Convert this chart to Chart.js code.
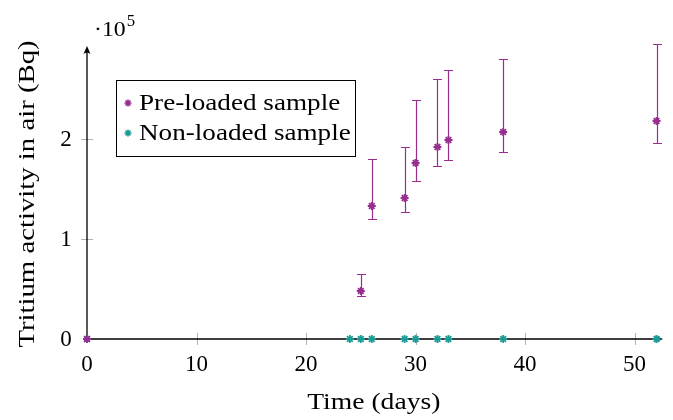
<!DOCTYPE html>
<html>
<head>
<meta charset="utf-8">
<script src="https://cdn.jsdelivr.net/npm/chart.js@4"></script>
<style>
html,body{margin:0;padding:0;background:#fff;}
#wrap{width:673px;height:420px;position:relative;}
</style>
</head>
<body>
<div id="wrap"><canvas id="c" width="673" height="420"></canvas></div>
<script>
// ---- data ----
const preDays    = [0, 25, 26, 29, 30, 32, 33, 38, 52];
const preValues  = [0, 48000, 133000, 141000, 176000, 192000, 199000, 207000, 218000];
const preUpper   = [0, 65500, 180000, 192000, 239000, 260000, 269000, 280000, 295000];
const preLower   = [0, 43500, 120000, 127000, 158000, 173000, 179000, 187000, 196000];
const nonDays    = [0, 24, 25, 26, 29, 30, 32, 33, 38, 52];
const nonValues  = [0, 0, 0, 0, 0, 0, 0, 0, 0, 0];
const xTicks     = [0, 10, 20, 30, 40, 50];
const yTicks     = [0, 100000, 200000];
const yTickLabels = ['0', '1', '2'];
const seriesLabels = ['Pre-loaded sample', 'Non-loaded sample'];
const xTitle = 'Time (days)';
const yTitle = 'Tritium activity in air (Bq)';

const PURPLE = '#962d8f';
const TEAL = '#1b9c97';
const SERIF = '"Liberation Serif", "DejaVu Serif", serif';

const preData = preDays.map((d, i) => ({x: d, y: preValues[i], hi: preUpper[i], lo: preLower[i]}));
const nonData = nonDays.map((d, i) => ({x: d, y: nonValues[i]}));

// draw text horizontally stretched (Latin Modern is wider than Times)
function wideText(ctx, text, x, y, stretch, align) {
  const w = ctx.measureText(text).width * stretch;
  let left = x;
  if (align === 'center') left = x - w / 2;
  else if (align === 'right') left = x - w;
  ctx.save();
  ctx.textAlign = 'left';
  ctx.translate(left, y);
  ctx.scale(stretch, 1);
  ctx.fillText(text, 0, 0);
  ctx.restore();
  return left + w;
}

function drawStar(ctx, x, y, r) {
  ctx.beginPath();
  for (let k = 0; k < 4; k++) {
    const a = k * Math.PI / 4;
    ctx.moveTo(x - r * Math.cos(a), y - r * Math.sin(a));
    ctx.lineTo(x + r * Math.cos(a), y + r * Math.sin(a));
  }
  ctx.stroke();
}

const errorBars = {
  id: 'errorBars',
  beforeDatasetsDraw(chart) {
    const ctx = chart.ctx, xs = chart.scales.x, ys = chart.scales.y;
    ctx.save();
    ctx.strokeStyle = PURPLE;
    ctx.lineWidth = 1.2;
    preData.forEach(p => {
      if (p.hi === p.lo) return;
      const x = Math.round(xs.getPixelForValue(p.x)) + 0.5;
      const yh = Math.round(ys.getPixelForValue(p.hi)) + 0.5, yl = Math.round(ys.getPixelForValue(p.lo)) + 0.5;
      ctx.beginPath();
      ctx.moveTo(x, yh); ctx.lineTo(x, yl);
      ctx.moveTo(x - 4.5, yh); ctx.lineTo(x + 4.5, yh);
      ctx.moveTo(x - 4.5, yl); ctx.lineTo(x + 4.5, yl);
      ctx.stroke();
    });
    ctx.restore();
  }
};

const axesPlugin = {
  id: 'axesPlugin',
  beforeDatasetsDraw(chart) {
    const ctx = chart.ctx, xs = chart.scales.x, ys = chart.scales.y;
    const ca = chart.chartArea;
    const x0 = xs.getPixelForValue(0), y0 = ys.getPixelForValue(0);
    ctx.save();
    // tick marks
    ctx.strokeStyle = '#b0b0b0';
    ctx.lineWidth = 1;
    xTicks.forEach(t => {
      if (t === 0) return;
      const x = Math.round(xs.getPixelForValue(t)) + 0.5;
      ctx.beginPath(); ctx.moveTo(x, y0 - 6); ctx.lineTo(x, y0 + 6); ctx.stroke();
    });
    yTicks.forEach(t => {
      if (t === 0) return;
      const y = Math.round(ys.getPixelForValue(t)) + 0.5;
      ctx.beginPath(); ctx.moveTo(x0 - 6, y); ctx.lineTo(x0 + 6, y); ctx.stroke();
    });
    // axis lines
    ctx.strokeStyle = '#000';
    ctx.lineWidth = 1.3;
    ctx.beginPath();
    ctx.moveTo(x0, y0); ctx.lineTo(ca.right - 2, y0);
    ctx.moveTo(x0, y0); ctx.lineTo(x0, ca.top + 2);
    ctx.stroke();
    // arrow heads
    ctx.fillStyle = '#000';
    ctx.beginPath();
    ctx.moveTo(ca.right + 1, y0);
    ctx.lineTo(ca.right - 7, y0 - 3.5);
    ctx.quadraticCurveTo(ca.right - 4, y0, ca.right - 7, y0 + 3.5);
    ctx.closePath(); ctx.fill();
    ctx.beginPath();
    ctx.moveTo(x0, ca.top - 1);
    ctx.lineTo(x0 - 3.5, ca.top + 7);
    ctx.quadraticCurveTo(x0, ca.top + 4, x0 + 3.5, ca.top + 7);
    ctx.closePath(); ctx.fill();
    // tick labels
    ctx.fillStyle = '#000';
    ctx.font = '23px ' + SERIF;
    ctx.textBaseline = 'middle';
    xTicks.forEach(t => wideText(ctx, String(t), xs.getPixelForValue(t), y0 + 26, 1.0, 'center'));
    yTicks.forEach((t, i) => wideText(ctx, yTickLabels[i], x0 - 21, ys.getPixelForValue(t) + 1, 1.0, 'center'));
    // titles
    ctx.font = '23px ' + SERIF;
    wideText(ctx, xTitle, (xs.getPixelForValue(0) + xs.getPixelForValue(50)) / 2 + 13, 403, 1.2, 'center');
    ctx.save();
    ctx.translate(28, 194);
    ctx.rotate(-Math.PI / 2);
    wideText(ctx, yTitle, 0, 0, 1.25, 'center');
    ctx.restore();
    // multiplier
    ctx.font = '22px ' + SERIF;
    ctx.textBaseline = 'alphabetic';
    const endX = wideText(ctx, '\u00B710', 94, 36, 1.08, 'left');
    ctx.font = '16px ' + SERIF;
    wideText(ctx, '5', endX + 1, 26, 1.05, 'left');
    ctx.restore();
  },
  afterDraw(chart) {
    const ctx = chart.ctx;
    ctx.save();
    // legend box
    const bx = 116.5, by = 80.5, bw = 239, bh = 76;
    ctx.fillStyle = '#fff';
    ctx.fillRect(bx, by, bw, bh);
    ctx.strokeStyle = '#000';
    ctx.lineWidth = 1;
    ctx.strokeRect(bx, by, bw, bh);
    const cols = [PURPLE, TEAL];
    ctx.font = '23px ' + SERIF;
    ctx.textBaseline = 'middle';
    seriesLabels.forEach((lab, i) => {
      const y = 103 + i * 30;
      ctx.strokeStyle = cols[i];
      ctx.lineWidth = 1.6;
      drawStar(ctx, 128, y, 3.5);
      ctx.fillStyle = '#000';
      wideText(ctx, lab, 139, y + 1, 1.18, 'left');
    });
    ctx.restore();
  }
};

new Chart(document.getElementById('c'), {
  type: 'scatter',
  data: {
    datasets: [
      {label: seriesLabels[0], data: preData, pointStyle: 'star', pointRadius: 4,
       borderColor: PURPLE, backgroundColor: PURPLE, pointBorderWidth: 1.8, pointHoverRadius: 4},
      {label: seriesLabels[1], data: nonData, pointStyle: 'star', pointRadius: 4,
       borderColor: TEAL, backgroundColor: TEAL, pointBorderWidth: 1.8, pointHoverRadius: 4}
    ]
  },
  options: {
    responsive: false,
    animation: false,
    devicePixelRatio: 1,
    layout: {padding: {left: 87, right: 11, top: 47, bottom: 81}},
    plugins: {legend: {display: false}, tooltip: {enabled: false}},
    scales: {
      x: {type: 'linear', min: 0, max: 52.5, display: false},
      y: {type: 'linear', min: 0, max: 292000, display: false}
    },
    clip: false
  },
  plugins: [axesPlugin, errorBars]
});
</script>
</body>
</html>
